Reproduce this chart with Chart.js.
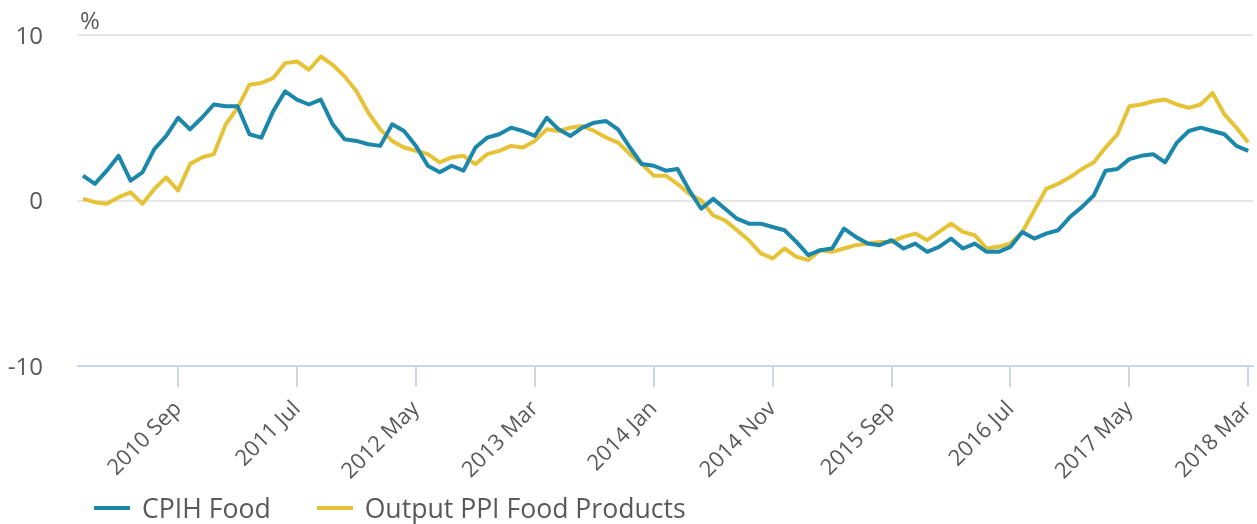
<!DOCTYPE html>
<html lang="en">
<head>
<meta charset="UTF-8">
<title>CPIH Food and Output PPI Food Products</title>
<script src="https://cdn.jsdelivr.net/npm/chart.js"></script>
<style>
  html, body { margin: 0; padding: 0; background: #fff; }
  body { font-family: 'Open Sans', sans-serif; color: #595959; }
  .wrap { position: relative; width: 1257px; height: 524px; }
  .unit { position: absolute; left: 80px; top: 3px; font-size: 24px; }
  .legend { position: absolute; left: 94px; top: 490px; font-size: 26.6px; display: flex; align-items: center; }
  .legend .item { display: flex; align-items: center; margin-right: 46px; }
  .legend .key { display: inline-block; width: 36px; height: 4px; margin-right: 12px; }
</style>
</head>
<body>
<div class="wrap">
  <canvas id="chart" width="1257" height="524"></canvas>
  <div class="unit">%</div>
  <div class="legend">
    <div class="item"><span class="key" style="background:#1b87ab"></span>CPIH Food</div>
    <div class="item"><span class="key" style="background:#e6c236"></span>Output PPI Food Products</div>
  </div>
</div>

<script>
// monthly, 2010 Jan .. 2018 Mar
const monthNames = ['Jan', 'Feb', 'Mar', 'Apr', 'May', 'Jun', 'Jul', 'Aug', 'Sep', 'Oct', 'Nov', 'Dec'];
const months = [];
for (let y = 2010; y <= 2018; y++) {
  for (let m = 0; m < 12; m++) {
    if (y === 2018 && m > 2) break;
    months.push(y + ' ' + monthNames[m]);
  }
}

const cpihFood = [
  1.5, 1.0, 1.8, 2.7, 1.2, 1.7, 3.1, 3.9, 5.0, 4.3, 5.0, 5.8,
  5.7, 5.7, 4.0, 3.8, 5.4, 6.6, 6.1, 5.8, 6.1, 4.6, 3.7, 3.6,
  3.4, 3.3, 4.6, 4.2, 3.3, 2.1, 1.7, 2.1, 1.8, 3.2, 3.8, 4.0,
  4.4, 4.2, 3.9, 5.0, 4.3, 3.9, 4.4, 4.7, 4.8, 4.3, 3.2, 2.2,
  2.1, 1.8, 1.9, 0.6, -0.5, 0.1, -0.5, -1.1, -1.4, -1.4, -1.6, -1.8,
  -2.5, -3.3, -3.0, -2.9, -1.7, -2.2, -2.6, -2.7, -2.4, -2.9, -2.6, -3.1,
  -2.8, -2.3, -2.9, -2.6, -3.1, -3.1, -2.8, -1.9, -2.3, -2.0, -1.8, -1.0,
  -0.4, 0.3, 1.8, 1.9, 2.5, 2.7, 2.8, 2.3, 3.5, 4.2, 4.4, 4.2,
  4.0, 3.3, 3.0
];

const ppiFood = [
  0.1, -0.1, -0.2, 0.2, 0.5, -0.2, 0.7, 1.4, 0.6, 2.2, 2.6, 2.8,
  4.6, 5.6, 7.0, 7.1, 7.4, 8.3, 8.4, 7.9, 8.7, 8.2, 7.5, 6.6,
  5.3, 4.3, 3.6, 3.2, 3.0, 2.8, 2.3, 2.6, 2.7, 2.2, 2.8, 3.0,
  3.3, 3.2, 3.6, 4.3, 4.2, 4.4, 4.5, 4.2, 3.8, 3.5, 2.8, 2.2,
  1.5, 1.5, 1.0, 0.4, 0.0, -0.9, -1.2, -1.8, -2.4, -3.2, -3.5, -2.9,
  -3.4, -3.6, -3.0, -3.1, -2.9, -2.7, -2.6, -2.5, -2.5, -2.2, -2.0, -2.4,
  -1.9, -1.4, -1.9, -2.1, -2.9, -2.8, -2.6, -1.9, -0.6, 0.7, 1.0, 1.4,
  1.9, 2.3, 3.2, 4.0, 5.7, 5.8, 6.0, 6.1, 5.8, 5.6, 5.8, 6.5,
  5.2, 4.4, 3.5
];

const tickLabels = ['2010 Sep', '2011 Jul', '2012 May', '2013 Mar', '2014 Jan',
  '2014 Nov', '2015 Sep', '2016 Jul', '2017 May', '2018 Mar'];
const tickIdx = tickLabels.map(l => months.indexOf(l));

const toXY = arr => arr.map((v, i) => ({ x: i, y: v }));

new Chart(document.getElementById('chart'), {
  type: 'line',
  data: {
    datasets: [
      { label: 'CPIH Food', data: toXY(cpihFood), borderColor: '#1b87ab', backgroundColor: '#1b87ab' },
      { label: 'Output PPI Food Products', data: toXY(ppiFood), borderColor: '#e6c236', backgroundColor: '#e6c236' }
    ]
  },
  options: {
    responsive: false,
    animation: false,
    layout: { padding: { top: 35, right: 4, left: 0, bottom: 0 } },
    elements: {
      line: { borderWidth: 4, tension: 0, borderJoinStyle: 'round' },
      point: { radius: 0, hoverRadius: 0 }
    },
    plugins: {
      legend: { display: false },
      tooltip: { enabled: false }
    },
    scales: {
      x: {
        type: 'linear',
        min: -0.42,
        max: 98.4,
        afterBuildTicks: s => { s.ticks = tickIdx.map(v => ({ value: v })); },
        afterFit: s => { s.height = 158; s.paddingLeft = 0; s.paddingRight = 0; },
        grid: { drawOnChartArea: false, drawTicks: true, tickLength: 21, tickColor: '#ccd6eb', lineWidth: 2 },
        border: { color: '#ccd6eb', width: 2 },
        ticks: {
          autoSkip: false,
          maxRotation: 45,
          minRotation: 45,
          padding: 9,
          color: '#595959',
          font: { family: 'Open Sans', size: 22 },
          callback: v => months[v]
        }
      },
      y: {
        min: -10,
        max: 10,
        // tick padding would otherwise push the plot top down
        afterFit: s => { s.width = 78; s.paddingTop = 0; s.paddingBottom = 0; },
        grid: {
          drawTicks: false,
          lineWidth: 2,
          color: c => (c.tick && c.tick.value === -10 ? '#ccd6eb' : '#e6e6e6')
        },
        border: { display: false },
        ticks: {
          stepSize: 10,
          padding: 35,
          labelOffset: 2,
          color: '#595959',
          font: { family: 'Open Sans', size: 24 }
        }
      }
    }
  }
});
</script>
</body>
</html>
